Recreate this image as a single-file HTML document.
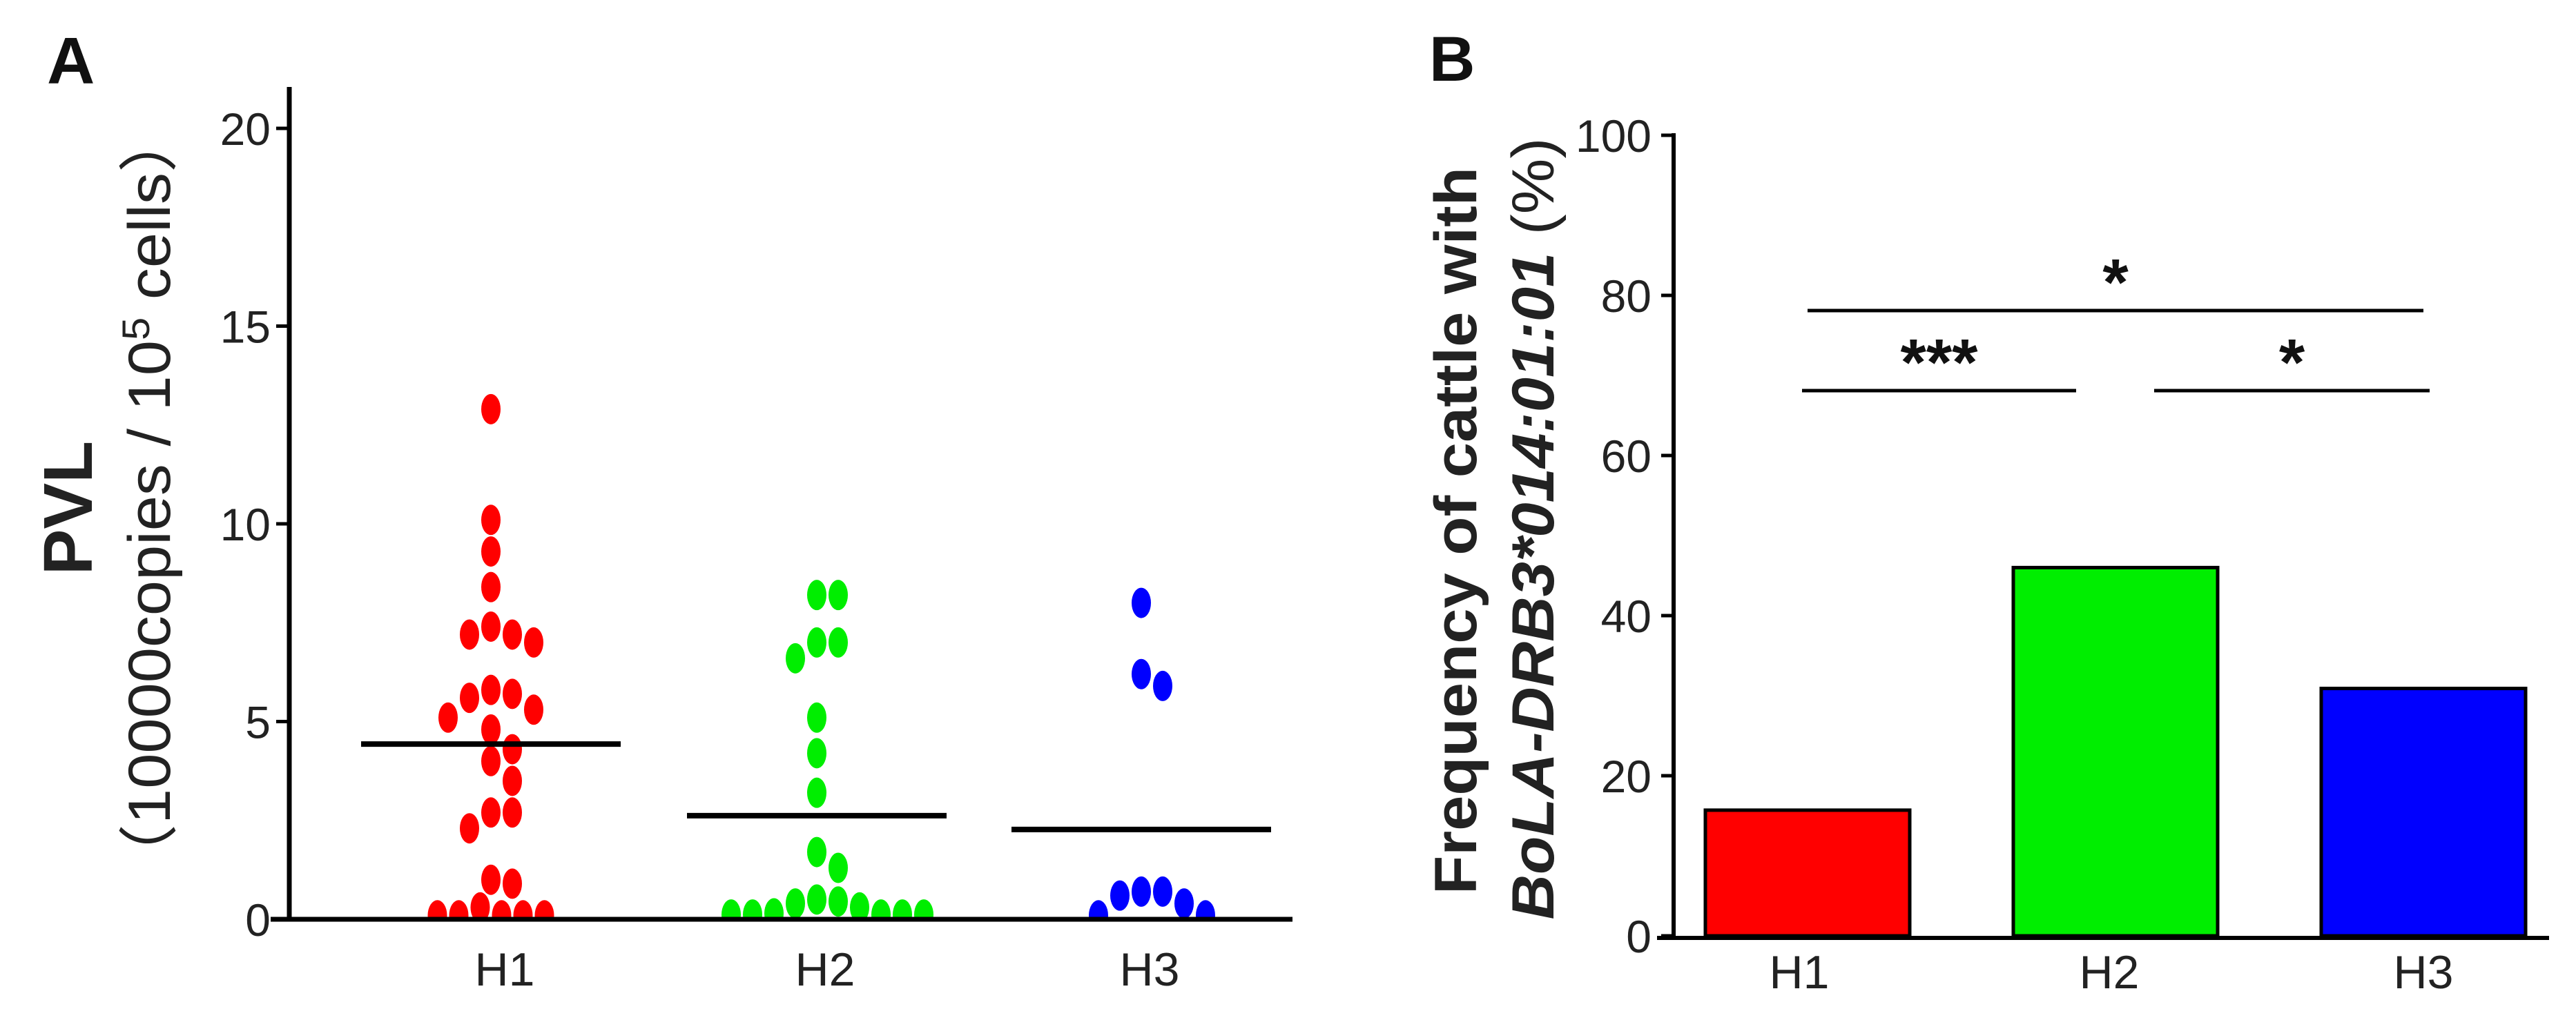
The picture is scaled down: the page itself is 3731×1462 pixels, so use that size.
<!DOCTYPE html>
<html><head><meta charset="utf-8"><style>
html,body{margin:0;padding:0;background:#fff}
svg{display:block}
text{font-family:"Liberation Sans","Noto Sans CJK JP",sans-serif;fill:#222}
</style></head><body>
<svg id="fig" width="3731" height="1462" viewBox="0 0 3731 1462" xmlns="http://www.w3.org/2000/svg">
<defs><clipPath id="clipA"><rect x="419" y="0" width="1500" height="1332"/></clipPath></defs>
<g id="panelA">
 <text x="68" y="121" font-size="96" font-weight="bold" style="fill:#111">A</text>
 <text transform="translate(133,736) rotate(-90)" text-anchor="middle" font-size="100" font-weight="bold" style="fill:#222">PVL</text>
 <text transform="translate(246,722) rotate(-90)" text-anchor="middle" font-size="86" textLength="1128" lengthAdjust="spacingAndGlyphs" style="fill:#222">（10000copies / 10<tspan font-size="56" dy="-30">5</tspan><tspan dy="30"> cells）</tspan></text>
 <g id="dotsA" clip-path="url(#clipA)"></g>
 <g id="meansA"></g>
 <g id="axA"></g>
</g>
<g id="panelB">
 <text x="2070" y="117" font-size="92" font-weight="bold" style="fill:#111">B</text>
 <text transform="translate(2138,769) rotate(-90)" text-anchor="middle" font-size="86" font-weight="bold" textLength="1054" lengthAdjust="spacingAndGlyphs">Frequency of cattle with</text>
 <text transform="translate(2250,766) rotate(-90)" text-anchor="middle" font-size="86" textLength="1133" lengthAdjust="spacingAndGlyphs"><tspan font-weight="bold" font-style="italic">BoLA-DRB3*014:01:01</tspan> (%)</text>
 <g id="axB"></g>
 <g id="barsB"></g>
</g>
</svg>
<script>
const groupsA = ["H1","H2","H3"];
const h1Values = [12.9,10.1,9.3,8.4,7.2,7.0,7.2,7.4,5.7,5.6,5.1,5.3,5.8,4.8,4.3,4.0,3.5,2.7,2.7,2.3,1.0,0.9,0.1,0.1,0.1,0.1,0.1,0.3];
const h2Values = [8.2,8.2,7.0,7.0,6.6,5.1,4.2,3.2,1.7,1.3,0.45,0.4,0.15,0.12,0.12,0.12,0.12,0.12,0.3,0.5];
const h3Values = [8.0,6.2,5.9,0.7,0.6,0.1,0.1,0.4,0.7];
const meansA = [4.43,2.62,2.27];
const ticksA = [0,5,10,15,20];

const groupsB = ["H1","H2","H3"];
const barValues = [15.7,46.0,30.9];
const ticksB = [0,20,40,60,80,100];
const sigLabels = ["*","***","*"];
const sigPairs = [[0,2],[0,1],[1,2]];
const sigLevels = [78,68,68];

const NS="http://www.w3.org/2000/svg";
function mk(tag,attrs,parent,txt){const e=document.createElementNS(NS,tag);for(const k in attrs)e.setAttribute(k,attrs[k]);if(txt!==undefined)e.textContent=txt;parent.appendChild(e);return e;}

const yA = v => 1332 - v*57.3;
const xA = i => [711,1183,1653][i];
const axA=document.getElementById('axA');
let l=mk('line',{x1:419,y1:126,x2:419,y2:1335,stroke:'#000','stroke-width':7},axA);


l=mk('line',{x1:392,y1:1332,x2:1872,y2:1332,stroke:'#000','stroke-width':7},axA);


ticksA.forEach(t=>{
 const tl=mk('line',{x1:400,y1:yA(t),x2:419,y2:yA(t),stroke:'#000','stroke-width':5},axA);
 
 
 const tx=mk('text',{x:392,y:yA(t)+24,'text-anchor':'end','font-size':66},axA,String(t));
 
 
});
groupsA.forEach((g,i)=>{
 const tx=mk('text',{x:[731,1195,1665][i],y:1428,'text-anchor':'middle','font-size':68},axA,g);
 
 
});
const colorsA=['#ff0000','#00ee00','#0000ff'];
const dotsA=document.getElementById('dotsA');
const meansG=document.getElementById('meansA');
[h1Values,h2Values,h3Values].forEach((vals,gi)=>{
 const rx=14, ry=22, step=31;
 const placed=[];
 const sorted=vals.slice().sort((a,b)=>b-a);
 sorted.forEach(v=>{
  const cy=yA(v);
  let best=null;
  for(let k=0;k<40;k++){
   const cands=k===0?[0]:[k*step/2,-k*step/2];
   for(const dx of cands){
    const ok=placed.every(p=>{const ddx=(p.dx-dx)/(2*rx+2),ddy=(p.cy-cy)/(2*ry);return ddx*ddx+ddy*ddy>=1;});
    if(ok){best=dx;break;}
   }
   if(best!==null)break;
  }
  placed.push({dx:best,cy:cy});
  const e=mk('ellipse',{cx:xA(gi)+best,cy:cy,rx:rx,ry:ry,fill:colorsA[gi]},dotsA);
  
  
 });
 const m=mk('line',{x1:xA(gi)-188,y1:yA(meansA[gi]),x2:xA(gi)+188,y2:yA(meansA[gi]),stroke:'#000','stroke-width':8},meansG);
 
 
});

const yB = v => 1356 - v*11.6;
const xBc = i => [2618,3064,3510][i];
const bw=296;
const axB=document.getElementById('axB');
l=mk('line',{x1:2424,y1:193,x2:2424,y2:1362,stroke:'#000','stroke-width':6},axB);


l=mk('line',{x1:2400,y1:1359,x2:3692,y2:1359,stroke:'#000','stroke-width':6},axB);


ticksB.forEach(t=>{
 const tl=mk('line',{x1:2406,y1:yB(t),x2:2424,y2:yB(t),stroke:'#000','stroke-width':5},axB);
 
 
 const tx=mk('text',{x:2392,y:yB(t)+24,'text-anchor':'end','font-size':66},axB,String(t));
 
 
});
groupsB.forEach((g,i)=>{
 const tx=mk('text',{x:[2606,3055,3510][i],y:1432,'text-anchor':'middle','font-size':68},axB,g);
 
 
});
const barsB=document.getElementById('barsB');
barValues.forEach((v,i)=>{
 const r=mk('rect',{x:xBc(i)-bw/2,y:yB(v),width:bw,height:yB(0)-yB(v),fill:colorsA[i],stroke:'#000','stroke-width':5},barsB);
 
 
});
sigPairs.forEach((p,i)=>{
 let x1,x2;
 if(sigLevels[i]===78){x1=xBc(p[0]);x2=xBc(p[1]);}
 else if(p[0]===0){x1=xBc(0)-8;x2=xBc(1)-57;}
 else {x1=xBc(1)+56;x2=xBc(2)+9;}
 const y=sigLevels[i]===78?450:566;
 const ln=mk('line',{x1:x1,y1:y,x2:x2,y2:y,stroke:'#000','stroke-width':5},barsB);
 
 
 const st=mk('text',{x:(x1+x2)/2,y:y-8,'text-anchor':'middle','font-size':96,'font-weight':'bold'},barsB,sigLabels[i]);
 
 
 st.style.fill='#111';
});
</script>
</body></html>
